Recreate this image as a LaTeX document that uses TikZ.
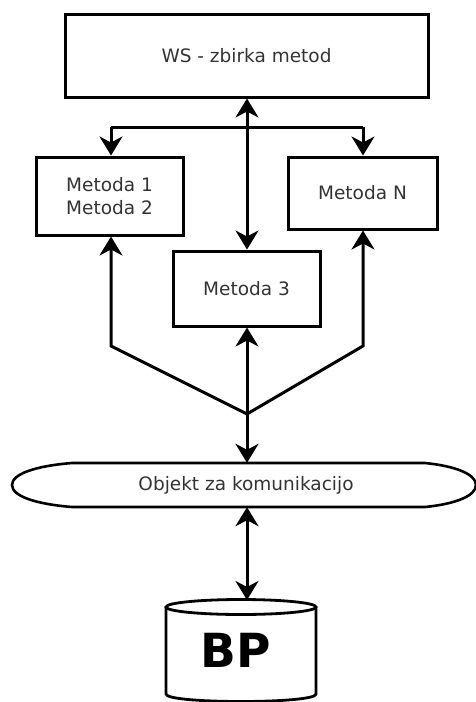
\documentclass[tikz,border=0pt]{standalone}
\usepackage{fontspec}
\setmainfont{DejaVu Sans}
\usetikzlibrary{arrows.meta}
\begin{document}
\begin{tikzpicture}[x=1pt,y=-1pt,
  box/.style={draw, line width=3pt, rectangle, inner sep=0pt, align=center,
    font=\fontsize{18.5}{23}\selectfont, text=black!80},
  conn/.style={line width=3pt},
  arr/.style={conn,-{Stealth[length=19pt,width=23pt,inset=6pt]}},
  darr/.style={conn,{Stealth[length=19pt,width=23pt,inset=6pt]}-{Stealth[length=19pt,width=23pt,inset=6pt]}}]
\useasboundingbox (0,0) rectangle (476,702);
\node[box, minimum width=363pt, minimum height=83pt] (ws) at (246.5,55.5) {WS - zbirka metod};
\node[box, minimum width=147pt, minimum height=78pt] (m12) at (109.5,196) {Metoda 1\\Metoda 2};
\node[box, minimum width=149pt, minimum height=72pt] (mn) at (362.5,193) {Metoda N};
\node[box, minimum width=147pt, minimum height=75pt] (m3) at (246.5,288.5) {Metoda 3};
% communication object
\draw[line width=2.6pt] (72,463) -- (425,463) .. controls (455,466) and (476,474) .. (476,485)
  .. controls (476,496) and (455,504) .. (425,507) -- (72,507)
  .. controls (35,504) and (12,496) .. (12,485) .. controls (12,474) and (35,466) .. (72,463) -- cycle;
\node[inner sep=0pt, minimum width=464pt, minimum height=44pt, font=\fontsize{18.5}{23}\selectfont, text=black!80] (obj) at (246,485) {Objekt za komunikacijo};
% database cylinder
\draw[line width=2.8pt, fill=white] (166,607) -- (166,694) .. controls (166,704) and (316,704) .. (316,694) -- (316,607);
\draw[line width=2.8pt] (241,607) ellipse [x radius=75pt, y radius=7.5pt];
\node[inner sep=0pt, font=\bfseries\fontsize{47}{50}\selectfont] (db) at (236,650) {BP};
\coordinate (dbtop) at (247,600);
% connectors
\coordinate (bl) at (111,127);
\coordinate (br) at (363,127);
\coordinate (j) at (247,414);
\coordinate (kl) at (111,346);
\coordinate (kr) at (363,346);
\draw[darr] (ws.south -| j) -- (m3.north -| j);
\draw[conn] (bl) -- (br);
\draw[arr] (bl) -- (bl |- m12.north);
\draw[arr] (br) -- (br |- mn.north);
\draw[arr] (j) -- (kl) -- (kl |- m12.south);
\draw[arr] (j) -- (kr) -- (kr |- mn.south);
\draw[darr] (m3.south -| j) -- (obj.north -| j);
\draw[darr] (obj.south -| j) -- (dbtop);
\end{tikzpicture}
\end{document}
